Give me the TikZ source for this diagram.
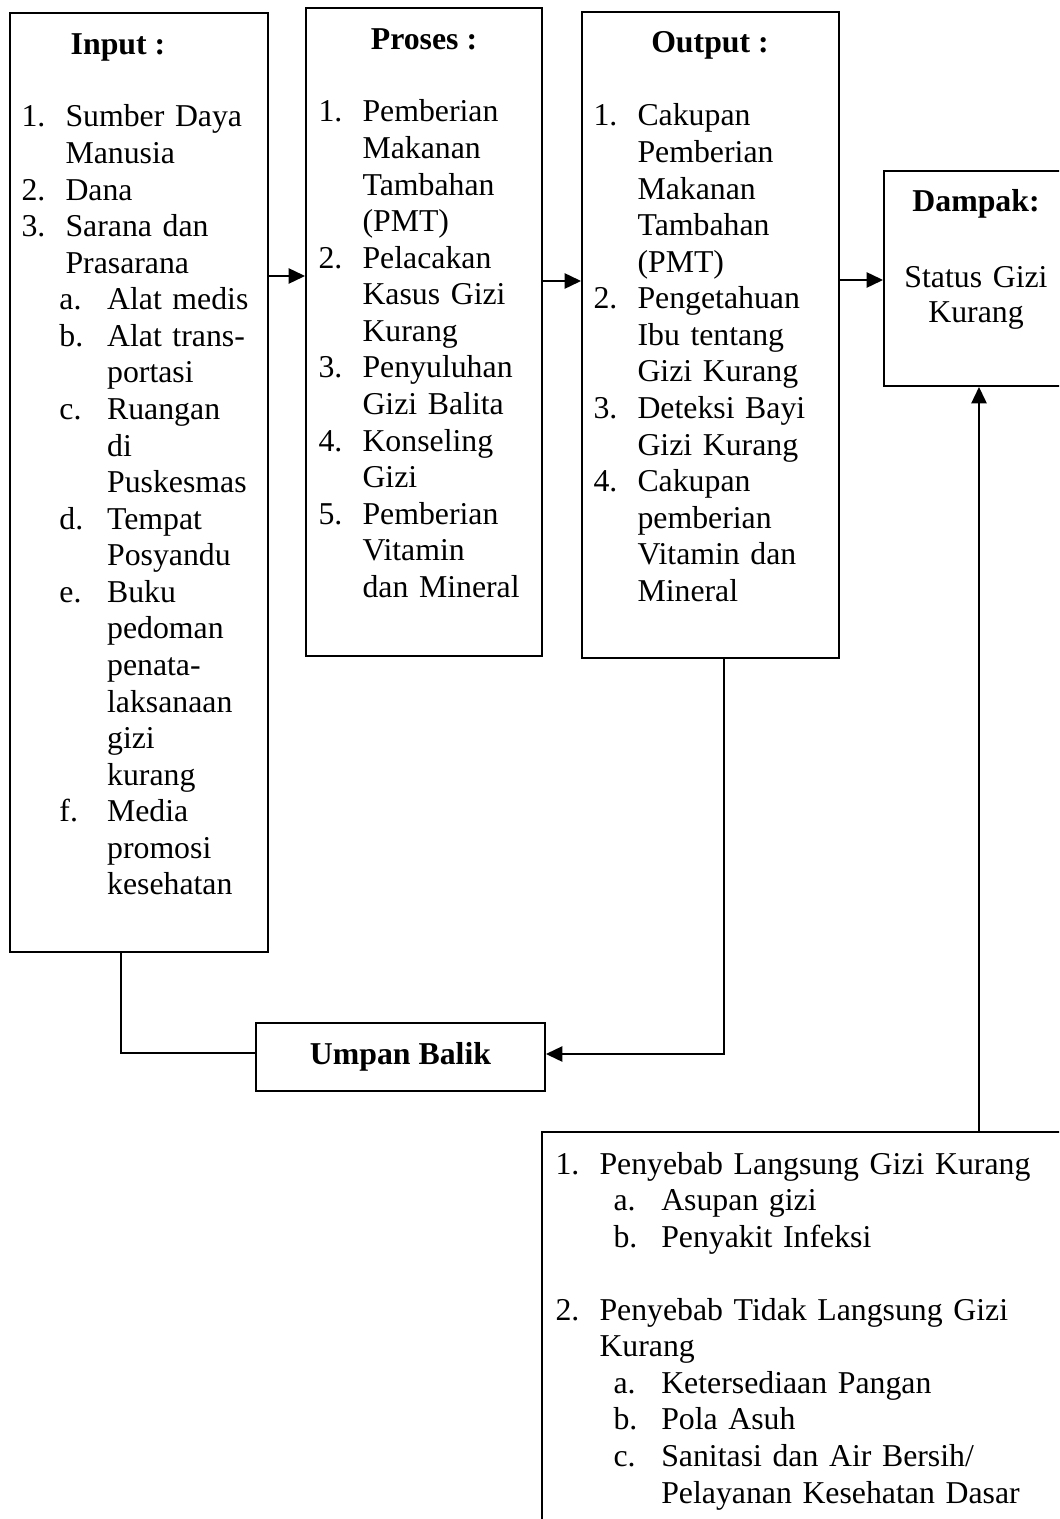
\documentclass[tikz,border=0pt]{standalone}
\usepackage{fontspec}
\setmainfont{Liberation Serif}
\usetikzlibrary{arrows.meta, fit}

\newcommand{\nument}[2]{\makebox[16.6pt][l]{#1}#2}
\newcommand{\numcont}[1]{\hspace*{16.6pt}#1}
\newcommand{\subent}[3]{\hspace*{#1}\makebox[18pt][l]{#2}#3}
\newcommand{\subcont}[2]{\hspace*{#1}\hspace*{18pt}#2}

\begin{document}
\begin{tikzpicture}[x=0.3774pt, y=-0.3774pt,
	font=\fontsize{12}{13.8}\selectfont,
	box/.style={draw, line width=0.75pt, inner sep=0pt},
	conn/.style={line width=0.6pt},
	arr/.style={conn, -{Triangle[length=6.2pt, width=5.8pt]}},
	heading/.style={anchor=base, inner sep=0pt, font=\fontsize{12}{13.8}\selectfont\bfseries},
	txt/.style={anchor=base west, inner sep=0pt, text width=300pt, align=left}]
	\useasboundingbox (0,0) rectangle (1059,1519);
	\clip (0,0) rectangle (1059,1519);

	\node [box, fit={(10,13) (268,952)}] (input) {};
	\node [box, fit={(306,8) (542,656)}] (proses) {};
	\node [box, fit={(582,12) (839,658)}] (output) {};
	\node [box, fit={(884,171) (1068,386)}] (dampak) {};
	\node [box, fit={(256,1023) (545,1091)}] (umpan) {};
	\node [box, fit={(542,1132) (1090,1560)}] (sebab) {};

	\node [heading] (inputhead) at (118,55) {Input :};
	\node [txt] (inputlist) at (21,127) {\nument{1.}{Sumber Daya}\\
		\numcont{Manusia}\\
		\nument{2.}{Dana}\\
		\nument{3.}{Sarana dan}\\
		\numcont{Prasarana}\\
		\subent{14.3pt}{a.}{Alat medis}\\
		\subent{14.3pt}{b.}{Alat trans-}\\
		\subcont{14.3pt}{portasi}\\
		\subent{14.3pt}{c.}{Ruangan}\\
		\subcont{14.3pt}{di}\\
		\subcont{14.3pt}{Puskesmas}\\
		\subent{14.3pt}{d.}{Tempat}\\
		\subcont{14.3pt}{Posyandu}\\
		\subent{14.3pt}{e.}{Buku}\\
		\subcont{14.3pt}{pedoman}\\
		\subcont{14.3pt}{penata-}\\
		\subcont{14.3pt}{laksanaan}\\
		\subcont{14.3pt}{gizi}\\
		\subcont{14.3pt}{kurang}\\
		\subent{14.3pt}{f.}{Media}\\
		\subcont{14.3pt}{promosi}\\
		\subcont{14.3pt}{kesehatan}};

	\node [heading] (proseshead) at (424,50) {Proses :};
	\node [txt] (proseslist) at (318,122) {\nument{1.}{Pemberian}\\
		\numcont{Makanan}\\
		\numcont{Tambahan}\\
		\numcont{(PMT)}\\
		\nument{2.}{Pelacakan}\\
		\numcont{Kasus Gizi}\\
		\numcont{Kurang}\\
		\nument{3.}{Penyuluhan}\\
		\numcont{Gizi Balita}\\
		\nument{4.}{Konseling}\\
		\numcont{Gizi}\\
		\nument{5.}{Pemberian}\\
		\numcont{Vitamin}\\
		\numcont{dan Mineral}};

	\node [heading] (outputhead) at (710,53) {Output :};
	\node [txt] (outputlist) at (593,126) {\nument{1.}{Cakupan}\\
		\numcont{Pemberian}\\
		\numcont{Makanan}\\
		\numcont{Tambahan}\\
		\numcont{(PMT)}\\
		\nument{2.}{Pengetahuan}\\
		\numcont{Ibu tentang}\\
		\numcont{Gizi Kurang}\\
		\nument{3.}{Deteksi Bayi}\\
		\numcont{Gizi Kurang}\\
		\nument{4.}{Cakupan}\\
		\numcont{pemberian}\\
		\numcont{Vitamin dan}\\
		\numcont{Mineral}};

	\node [heading] (dampakhead) at (976,212) {Dampak:};
	\node [txt, anchor=base, text width=100pt, align=center, font=\fontsize{12}{13.2}\selectfont] (dampaktext) at (976,288) {Status Gizi\\Kurang};

	\node [font=\fontsize{12}{13.8}\selectfont\bfseries] (umpantext) at (umpan.center) {Umpan Balik};

	\node [txt] (sebablist) at (555,1174) {\nument{1.}{Penyebab Langsung Gizi Kurang}\\
		\subent{21.9pt}{a.}{Asupan gizi}\\
		\subent{21.9pt}{b.}{Penyakit Infeksi}\\
		\mbox{}\\
		\nument{2.}{Penyebab Tidak Langsung Gizi}\\
		\numcont{Kurang}\\
		\subent{21.9pt}{a.}{Ketersediaan Pangan}\\
		\subent{21.9pt}{b.}{Pola Asuh}\\
		\subent{21.9pt}{c.}{Sanitasi dan Air Bersih/}\\
		\subcont{21.9pt}{Pelayanan Kesehatan Dasar}};

	\draw [arr] (input.east |- 0,276) -- (proses.west |- 0,276);
	\draw [arr] (proses.east |- 0,281) -- (output.west |- 0,281);
	\draw [arr] (output.east |- 0,280) -- (dampak.west |- 0,280);
	\draw [arr] (output.south -| 724,0) |- (umpan.east |- 0,1054);
	\draw [conn] (umpan.west |- 0,1053) -| (input.south -| 121,0);
	\draw [arr] (sebab.north -| 979,0) -- (dampak.south -| 979,0);
\end{tikzpicture}
\end{document}
